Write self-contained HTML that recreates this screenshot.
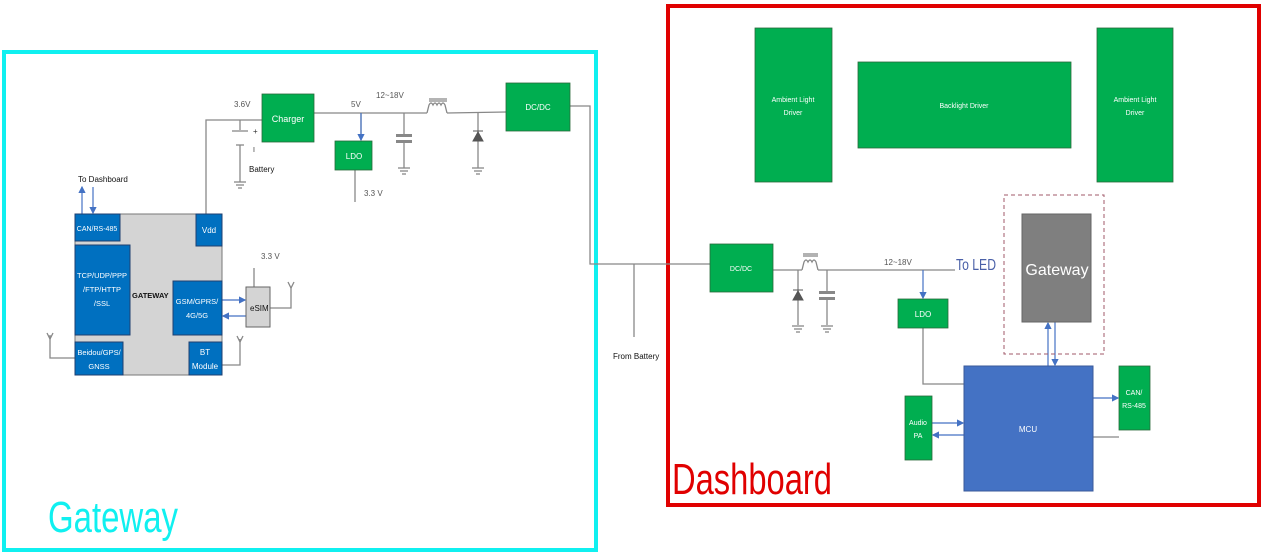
<!DOCTYPE html>
<html><head><meta charset="utf-8"><style>
html,body{margin:0;padding:0;background:#fff;width:1265px;height:557px;overflow:hidden}
svg{display:block}
text{font-family:"Liberation Sans",sans-serif}
</style></head><body>
<svg width="1265" height="557" viewBox="0 0 1265 557" xmlns="http://www.w3.org/2000/svg">
<defs>
<marker id="a" markerWidth="6" markerHeight="6" refX="5" refY="3" orient="auto"><path d="M0,0 L6,3 L0,6z" fill="#4472c4"/></marker>
</defs>
<rect x="4" y="52" width="592" height="498" fill="none" stroke="#10f0f0" stroke-width="4"/>
<rect x="668" y="6" width="591" height="499" fill="none" stroke="#e00000" stroke-width="4"/>
<text x="48" y="532" font-size="44" fill="#10f0f0" textLength="130" lengthAdjust="spacingAndGlyphs">Gateway</text>
<text x="672" y="494" font-size="44" fill="#e00000" textLength="160" lengthAdjust="spacingAndGlyphs">Dashboard</text>

<g stroke="#888" stroke-width="1.3" fill="none">
<polyline points="206,214 206,120 262,120"/>
<line x1="240" y1="120" x2="240" y2="130"/>
<line x1="232" y1="131" x2="248" y2="131"/>
<line x1="236" y1="145" x2="244" y2="145"/>
<line x1="240" y1="145" x2="240" y2="182"/>
<line x1="234" y1="182" x2="246" y2="182"/><line x1="236" y1="185" x2="244" y2="185"/><line x1="238" y1="188" x2="242" y2="188"/>
<polyline points="314,113 427,113"/>
<path d="M427,113 L429,105 q2,-4 4,0 q2,-4 4,0 q2,-4 4,0 q2,-4 4,0 L447,113"/>
<line x1="429" y1="99" x2="447" y2="99"/><line x1="429" y1="101" x2="447" y2="101"/>
<polyline points="447,113 506,112"/>
<line x1="361" y1="113" x2="361" y2="140"/>
<line x1="404" y1="113" x2="404" y2="134"/>
<line x1="404" y1="142" x2="404" y2="168"/>
<line x1="398" y1="168" x2="410" y2="168"/><line x1="400" y1="171" x2="408" y2="171"/><line x1="402" y1="174" x2="406" y2="174"/>
<line x1="478" y1="113" x2="478" y2="168"/>
<line x1="472" y1="168" x2="484" y2="168"/><line x1="474" y1="171" x2="482" y2="171"/><line x1="476" y1="174" x2="480" y2="174"/>
<line x1="355" y1="170" x2="355" y2="202"/>
<polyline points="570,106 590,106 590,264 710,264"/>
<line x1="634" y1="264" x2="634" y2="337"/>
<polyline points="254,287 254,268"/>
<polyline points="270,308 291,308 291,287"/>
<path d="M288,282 l3,6 l3,-6"/>
<polyline points="75,358 50,358 50,335"/>
<path d="M47,333 l3,6 l3,-6"/>
<polyline points="222,365 240,365 240,339"/>
<path d="M237,336 l3,6 l3,-6"/>
<polyline points="773,270 802,270"/>
<path d="M802,270 L804,262 q2,-4 4,0 q2,-4 4,0 q2,-4 4,0 L818,270"/>
<line x1="803" y1="254" x2="818" y2="254"/><line x1="803" y1="256" x2="818" y2="256"/>
<polyline points="818,270 955,270"/>
<line x1="798" y1="270" x2="798" y2="325"/>
<line x1="792" y1="326" x2="804" y2="326"/><line x1="794" y1="329" x2="802" y2="329"/><line x1="796" y1="332" x2="800" y2="332"/>
<line x1="827" y1="270" x2="827" y2="291"/>
<line x1="827" y1="299" x2="827" y2="325"/>
<line x1="821" y1="326" x2="833" y2="326"/><line x1="823" y1="329" x2="831" y2="329"/><line x1="825" y1="332" x2="829" y2="332"/>
<polyline points="923,328 923,384 964,384"/>
<polyline points="1093,437 1119,437"/>
</g>
<g fill="#888"><rect x="396" y="134" width="16" height="3"/><rect x="396" y="140" width="16" height="3"/>
<rect x="819" y="291" width="16" height="3"/><rect x="819" y="297" width="16" height="3"/></g>
<path d="M473,141 h10 l-5,-9z M473,131 h10" fill="#555" stroke="#555"/>
<path d="M793,300 h10 l-5,-9z M793,290 h10" fill="#555" stroke="#555"/>
<text x="253" y="134" font-size="8" fill="#333">+</text>
<text x="253" y="152" font-size="7" fill="#333">I</text>

<g stroke="#4472c4" stroke-width="1.2" fill="none" marker-end="url(#a)">
<line x1="361" y1="113" x2="361" y2="140"/>
<line x1="82" y1="214" x2="82" y2="187"/>
<line x1="93" y1="187" x2="93" y2="213"/>
<line x1="222" y1="300" x2="245" y2="300"/>
<line x1="246" y1="316" x2="223" y2="316"/>
<line x1="923" y1="270" x2="923" y2="298"/>
<line x1="1048" y1="366" x2="1048" y2="323"/>
<line x1="1055" y1="322" x2="1055" y2="365"/>
<line x1="1093" y1="398" x2="1118" y2="398"/>
<line x1="932" y1="423" x2="963" y2="423"/>
<line x1="964" y1="435" x2="933" y2="435"/>
</g>

<rect x="75" y="214" width="147" height="161" fill="#d4d4d4" stroke="#777"/>
<g fill="#0070c0" stroke="#1f3f70" stroke-width="1">
<rect x="75" y="214" width="45" height="27"/>
<rect x="196" y="214" width="26" height="32"/>
<rect x="75" y="245" width="55" height="90"/>
<rect x="173" y="281" width="49" height="54"/>
<rect x="75" y="342" width="48" height="33"/>
<rect x="189" y="342" width="33" height="33"/>
</g>
<rect x="246" y="287" width="24" height="40" fill="#d4d4d4" stroke="#666"/>
<g fill="#00ae50" stroke="#2a6a3a" stroke-width="0.8">
<rect x="262" y="94" width="52" height="48"/>
<rect x="335" y="141" width="37" height="29"/>
<rect x="506" y="83" width="64" height="48"/>
<rect x="755" y="28" width="77" height="154"/>
<rect x="858" y="62" width="213" height="86"/>
<rect x="1097" y="28" width="76" height="154"/>
<rect x="710" y="244" width="63" height="48"/>
<rect x="898" y="299" width="50" height="29"/>
<rect x="1119" y="366" width="31" height="64"/>
<rect x="905" y="396" width="27" height="64"/>
</g>
<rect x="1004" y="195" width="100" height="159" fill="none" stroke="#a05a6a" stroke-dasharray="4,3"/>
<rect x="1022" y="214" width="69" height="108" fill="#7f7f7f" stroke="#666"/>
<rect x="964" y="366" width="129" height="125" fill="#4472c4" stroke="#3a5a9a"/>

<g font-size="8" fill="#fff" text-anchor="middle">
<text x="97" y="231" font-size="7">CAN/RS-485</text>
<text x="209" y="233">Vdd</text>
<text x="102" y="278" font-size="7.5">TCP/UDP/PPP</text>
<text x="102" y="292" font-size="7.5">/FTP/HTTP</text>
<text x="102" y="306" font-size="7.5">/SSL</text>
<text x="197" y="304" font-size="7.5">GSM/GPRS/</text>
<text x="197" y="318" font-size="7.5">4G/5G</text>
<text x="99" y="355" font-size="7.5">Beidou/GPS/</text>
<text x="99" y="369" font-size="7.5">GNSS</text>
<text x="205" y="355">BT</text>
<text x="205" y="369">Module</text>
<text x="288" y="122" font-size="9">Charger</text>
<text x="354" y="159">LDO</text>
<text x="538" y="110">DC/DC</text>
<text x="793" y="102" font-size="7">Ambient Light</text>
<text x="793" y="115" font-size="7">Driver</text>
<text x="964" y="108" font-size="7">Backlight Driver</text>
<text x="1135" y="102" font-size="7">Ambient Light</text>
<text x="1135" y="115" font-size="7">Driver</text>
<text x="741" y="271" font-size="7">DC/DC</text>
<text x="923" y="317">LDO</text>
<text x="1134" y="395" font-size="7">CAN/</text>
<text x="1134" y="408" font-size="7">RS-485</text>
<text x="918" y="425" font-size="7">Audio</text>
<text x="918" y="438" font-size="7">PA</text>
<text x="1028" y="432" font-size="8">MCU</text>
<text x="1057" y="275" font-size="16">Gateway</text>
</g>
<g font-size="8" fill="#333">
<text x="132" y="298" fill="#111" font-weight="bold" font-size="7.5">GATEWAY</text>
<text x="250" y="311" fill="#111">eSIM</text>
<text x="78" y="182" fill="#111">To Dashboard</text>
<text x="249" y="172" fill="#111">Battery</text>
<text x="234" y="107" fill="#555">3.6V</text>
<text x="351" y="107" fill="#555">5V</text>
<text x="376" y="98" fill="#555">12~18V</text>
<text x="364" y="196" fill="#555">3.3 V</text>
<text x="261" y="259" fill="#555">3.3 V</text>
<text x="613" y="359" fill="#111">From Battery</text>
<text x="884" y="265" fill="#555">12~18V</text>
</g>
<text x="956" y="270" font-size="16" fill="#4a60a8" textLength="40" lengthAdjust="spacingAndGlyphs">To LED</text>
</svg>
</body></html>
